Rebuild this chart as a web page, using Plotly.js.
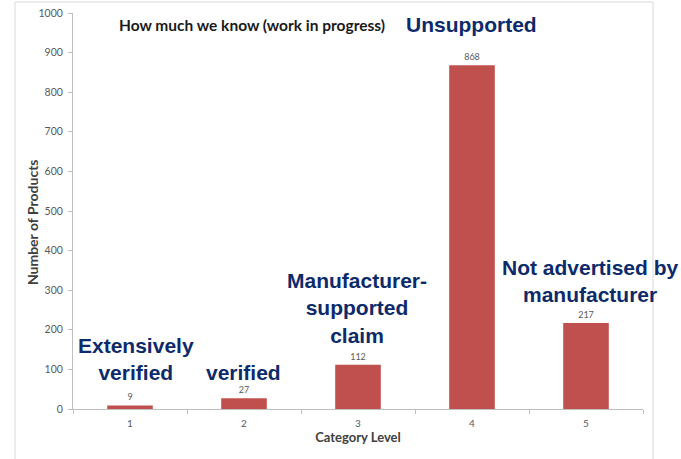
<!DOCTYPE html>
<html>
<head>
<meta charset="utf-8">
<script src="https://cdn.plot.ly/plotly-3.0.1.min.js"></script>
<style>html,body{margin:0;padding:0;background:#fff;}#chart{width:681px;height:459px;}</style>
</head>
<body>
<div id="chart"></div>
<script>
const categories = ["1", "2", "3", "4", "5"];
const counts = [9, 27, 112, 868, 217];
const labelTexts = ["Extensively<br>verified", "verified", "Manufacturer-<br>supported<br>claim", "Unsupported", "Not advertised by<br>manufacturer"];
const labelY = [126, 93, 255, 970, 322];
const labelXShift = [6, -1, -1, -1, 4];
const chartTitle = "How much we know (work in progress)";
const xTitle = "Category Level";
const yTitle = "Number of Products";

const trace = {
  type: "bar",
  x: categories,
  y: counts,
  width: 0.4,
  marker: {color: "#c0504d"},
  text: counts.map(String),
  textposition: "outside",
  textfont: {family: "Lato, 'Open Sans', sans-serif", size: 9, color: "#595959"},
  cliponaxis: false,
  hoverinfo: "skip"
};

const annotations = labelTexts.map((t, i) => ({
  xref: "x", yref: "y", x: i, y: labelY[i],
  xshift: labelXShift[i],
  text: "<b>" + t + "</b>", showarrow: false,
  font: {family: "Arial, 'Liberation Sans', sans-serif", size: 21, color: "#0d2a6b"},
  align: "center", xanchor: "center", yanchor: "middle"
}));
annotations.push({
  xref: "paper", yref: "paper", x: 0.077, y: 0.97,
  xanchor: "left", yanchor: "middle", showarrow: false,
  text: "<b>" + chartTitle + "</b>",
  font: {family: "Lato, 'Open Sans', sans-serif", size: 15.5, color: "#1a1a1a"}
});
annotations.push({
  xref: "paper", yref: "paper", x: -0.0719, y: 0.472,
  xanchor: "center", yanchor: "middle", showarrow: false, textangle: -90,
  text: "<b>" + yTitle + "</b>",
  font: {family: "Lato, 'Open Sans', sans-serif", size: 14, color: "#404040"}
});

const layout = {
  width: 681, height: 459,
  margin: {l: 73, r: 38, t: 13, b: 50},
  paper_bgcolor: "#fff", plot_bgcolor: "#fff",
  showlegend: false,
  bargap: 0.6,
  xaxis: {
    type: "category",
    range: [-0.5, 4.5],
    showline: true, linecolor: "#bfbfbf", linewidth: 1,
    ticks: "outside", ticklen: 4, tickcolor: "#bfbfbf", tickson: "boundaries",
    ticklabelstandoff: 5,
    tickfont: {family: "Lato, 'Open Sans', sans-serif", size: 10, color: "#595959"},
    showgrid: false, zeroline: false,
    title: {text: "<b>" + xTitle + "</b>", standoff: 4,
      font: {family: "Lato, 'Open Sans', sans-serif", size: 13, color: "#404040"}}
  },
  yaxis: {
    range: [0, 1000], dtick: 100,
    showline: true, linecolor: "#bfbfbf", linewidth: 1,
    ticks: "outside", ticklen: 4, tickcolor: "#bfbfbf",
    ticklabelstandoff: 3,
    tickfont: {family: "Lato, 'Open Sans', sans-serif", size: 10.5, color: "#595959"},
    showgrid: false, zeroline: false
  },
  shapes: [{
    type: "rect", xref: "paper", yref: "paper",
    x0: -0.1018, x1: 1.0175, y0: -0.2, y1: 1.0278,
    line: {color: "#d9d9d9", width: 1}, fillcolor: "rgba(0,0,0,0)", layer: "below"
  }],
  annotations: annotations
};

Plotly.newPlot("chart", [trace], layout, {displayModeBar: false, staticPlot: true});
</script>
</body>
</html>
